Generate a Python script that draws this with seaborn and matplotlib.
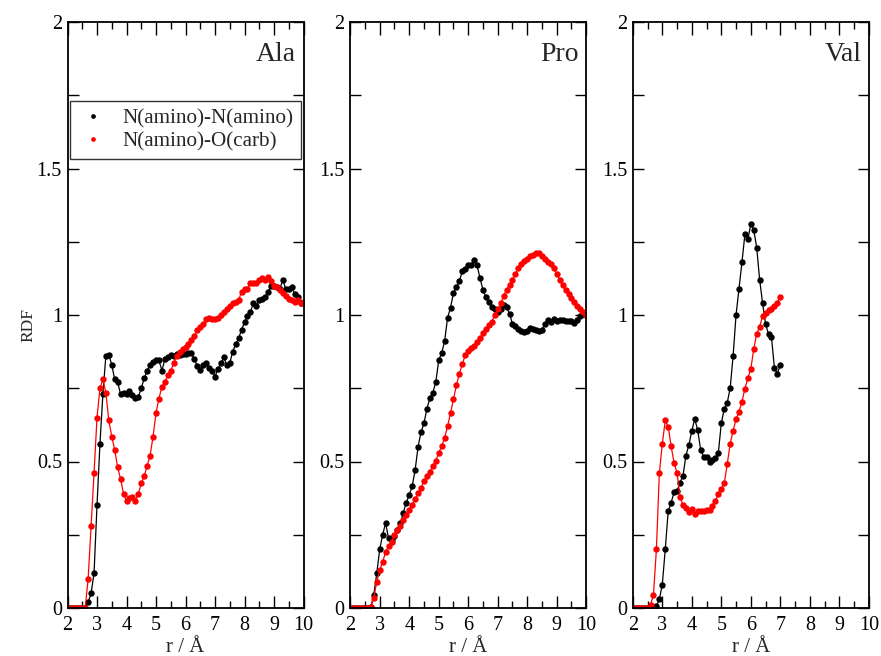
import numpy as np
import pandas as pd
import matplotlib
matplotlib.use("Agg")
import matplotlib.pyplot as plt
import seaborn as sns
from matplotlib.lines import Line2D
from matplotlib.ticker import MultipleLocator, FuncFormatter

# ---------------- data ----------------
residues = ["Ala", "Pro", "Val"]
pair_labels = ["N(amino)-N(amino)", "N(amino)-O(carb)"]
pair_colors = ["#000000", "#ff0000"]

r_full = np.round(np.arange(2.0, 10.001, 0.1), 1)   # r grid, 2..10 Å
r_val = np.round(np.arange(2.0, 7.001, 0.1), 1)     # Val only to 7 Å

ala_nn = [0, 0, 0, 0, 0, 0, 0, 0.02, 0.05, 0.12,
          0.35, 0.56, 0.73, 0.86, 0.865, 0.83, 0.78, 0.77, 0.73, 0.735,
          0.73, 0.74, 0.727, 0.716, 0.72, 0.75, 0.784, 0.81, 0.83, 0.84,
          0.846, 0.846, 0.81, 0.849, 0.858, 0.862, 0.86, 0.868, 0.864, 0.867,
          0.866, 0.869, 0.869, 0.85, 0.825, 0.812, 0.83, 0.835, 0.82, 0.81,
          0.79, 0.815, 0.835, 0.855, 0.83, 0.835, 0.875, 0.9, 0.92, 0.95,
          0.975, 0.997, 1.01, 1.04, 1.03, 1.05, 1.055, 1.06, 1.08, 1.10,
          1.10, 1.095, 1.09, 1.12, 1.088, 1.088, 1.095, 1.072, 1.06, 1.04,
          1.045]
ala_no = [0, 0, 0, 0, 0, 0, 0, 0.10, 0.28, 0.46,
          0.65, 0.75, 0.78, 0.735, 0.64, 0.585, 0.54, 0.48, 0.44, 0.39,
          0.366, 0.374, 0.38, 0.366, 0.39, 0.425, 0.45, 0.485, 0.52, 0.585,
          0.665, 0.715, 0.755, 0.77, 0.795, 0.81, 0.835, 0.86, 0.875, 0.885,
          0.89, 0.90, 0.915, 0.93, 0.95, 0.96, 0.97, 0.985, 0.99, 0.985,
          0.985, 0.99, 1.0, 1.01, 1.02, 1.03, 1.04, 1.045, 1.05, 1.08,
          1.09, 1.09, 1.11, 1.11, 1.11, 1.12, 1.125, 1.12, 1.13, 1.115,
          1.10, 1.095, 1.085, 1.075, 1.065, 1.055, 1.05, 1.045, 1.05, 1.04,
          1.04]
pro_nn = [0, 0, 0, 0, 0, 0, 0, 0.003, 0.045, 0.118,
          0.20, 0.25, 0.29, 0.238, 0.232, 0.245, 0.265, 0.29, 0.325, 0.36,
          0.386, 0.415, 0.47, 0.55, 0.60, 0.63, 0.68, 0.716, 0.735, 0.77,
          0.845, 0.87, 0.91, 0.99, 1.025, 1.075, 1.095, 1.115, 1.15, 1.156,
          1.17, 1.17, 1.188, 1.17, 1.125, 1.087, 1.06, 1.043, 1.026, 1.02,
          1.011, 1.02, 1.034, 1.026, 1.005, 0.97, 0.961, 0.952, 0.945, 0.943,
          0.945, 0.955, 0.953, 0.948, 0.947, 0.949, 0.97, 0.982, 0.977, 0.985,
          0.98, 0.983, 0.983, 0.98, 0.98, 0.978, 0.972, 0.982, 0.998, 1.005,
          1.0]
pro_no = [0, 0, 0, 0, 0, 0, 0, 0.005, 0.035, 0.09,
          0.128, 0.158, 0.19, 0.21, 0.225, 0.25, 0.266, 0.28, 0.30, 0.318,
          0.335, 0.353, 0.372, 0.391, 0.41, 0.435, 0.45, 0.465, 0.484, 0.503,
          0.528, 0.553, 0.58, 0.62, 0.665, 0.712, 0.76, 0.80, 0.832, 0.863,
          0.876, 0.888, 0.895, 0.908, 0.92, 0.937, 0.952, 0.965, 0.977, 1.0,
          1.02, 1.04, 1.065, 1.086, 1.104, 1.12, 1.14, 1.159, 1.175, 1.184,
          1.192, 1.2, 1.205, 1.212, 1.21, 1.203, 1.19, 1.182, 1.174, 1.16,
          1.14, 1.12, 1.102, 1.086, 1.07, 1.057, 1.044, 1.032, 1.02, 1.01,
          1.0]
val_nn = [0, 0, 0, 0, 0, 0, 0, 0.002, 0.006, 0.03,
          0.08, 0.2, 0.33, 0.36, 0.395, 0.40, 0.428, 0.45, 0.52, 0.556,
          0.605, 0.645, 0.607, 0.54, 0.516, 0.515, 0.498, 0.505, 0.512, 0.53,
          0.63, 0.68, 0.70, 0.75, 0.86, 1.0, 1.09, 1.18, 1.275, 1.258,
          1.31, 1.29, 1.23, 1.12, 1.04, 0.97, 0.935, 0.925, 0.82, 0.80,
          0.83]
val_no = [0, 0, 0, 0, 0, 0, 0.01, 0.045, 0.2, 0.46,
          0.56, 0.64, 0.619, 0.552, 0.495, 0.46, 0.38, 0.352, 0.34, 0.328,
          0.338, 0.32, 0.33, 0.33, 0.332, 0.336, 0.336, 0.347, 0.365, 0.39,
          0.405, 0.425, 0.49, 0.56, 0.605, 0.645, 0.67, 0.704, 0.748, 0.785,
          0.815, 0.885, 0.935, 0.96, 0.997, 1.007, 1.016, 1.022, 1.03, 1.042,
          1.063]

x_ticks = [2, 3, 4, 5, 6, 7, 8, 9, 10]
y_ticks = [0, 0.5, 1, 1.5, 2]

# ---------------- tidy table ----------------
series = {
    "Ala": (r_full, ala_nn, ala_no),
    "Pro": (r_full, pro_nn, pro_no),
    "Val": (r_val, val_nn, val_no),
}
rows = []
for res, (rr, nn, no) in series.items():
    for lab, vals in zip(pair_labels, (nn, no)):
        for x, y in zip(rr, vals):
            rows.append((res, lab, x, y))
df = pd.DataFrame(rows, columns=["residue", "pair", "r", "g"])

# ---------------- style ----------------
sns.set_theme(style="ticks")
plt.rcParams["font.family"] = ["Liberation Serif", "DejaVu Serif"]
plt.rcParams["axes.edgecolor"] = "black"
plt.rcParams["xtick.color"] = "black"
plt.rcParams["ytick.color"] = "black"

W, H = 881, 656
fig = plt.figure(figsize=(W / 100, H / 100), dpi=100)
fig.patch.set_facecolor("white")

lefts = [67.5, 350.2, 632.8]
ax_w, ax_bottom, ax_h = 236.0, 48.0, 586.0
palette = dict(zip(pair_labels, pair_colors))

axes = []
for res, lx in zip(residues, lefts):
    ax = fig.add_axes([lx / W, ax_bottom / H, ax_w / W, ax_h / H])
    sub = df[df["residue"] == res]
    sns.lineplot(data=sub, x="r", y="g", hue="pair", hue_order=pair_labels,
                 palette=palette, marker="o", markersize=4.6,
                 markeredgewidth=0, linewidth=0.9, estimator=None,
                 sort=False, legend=False, ax=ax)
    ax.set_xlim(2, 10)
    ax.set_ylim(0, 2)
    ax.set_xticks(x_ticks)
    ax.set_yticks(y_ticks)
    ax.xaxis.set_minor_locator(MultipleLocator(0.5))
    ax.yaxis.set_minor_locator(MultipleLocator(0.25))
    ax.yaxis.set_major_formatter(FuncFormatter(lambda v, p: "%g" % v))
    ax.xaxis.set_major_formatter(FuncFormatter(lambda v, p: "%g" % v))
    ax.tick_params(which="both", direction="in", top=True, right=True,
                   width=1.0, labelsize=14.5)
    ax.tick_params(axis="x", which="major", length=9, pad=6)
    ax.tick_params(axis="x", which="minor", length=5)
    ax.tick_params(axis="y", which="both", length=8, pad=4)
    for sp in ax.spines.values():
        sp.set_linewidth(1.3)
        sp.set_color("black")
    ax.set_xlabel("r / Å", fontsize=15, labelpad=2)
    ax.set_ylabel("")
    ax.text(0.969, 0.933, res, transform=ax.transAxes, ha="right",
            va="baseline", fontsize=20)
    axes.append(ax)

fig.text(28 / W, 1 - 325 / H, "RDF", rotation=90, ha="center", va="center",
         fontsize=12.5)

handles = [Line2D([], [], marker="o", linestyle="none", color=c,
                  markeredgewidth=0, markersize=3.4) for c in pair_colors]
leg = axes[0].legend(handles, pair_labels, loc="upper left",
                     bbox_to_anchor=(0.011, 0.866), borderaxespad=0,
                     fontsize=15.2, frameon=True, fancybox=False,
                     edgecolor="black", borderpad=0.38, labelspacing=0.15,
                     handlelength=1.4, handletextpad=0.7)
leg.get_frame().set_linewidth(1.0)

fig.savefig("out.png", dpi=100, facecolor="white")
